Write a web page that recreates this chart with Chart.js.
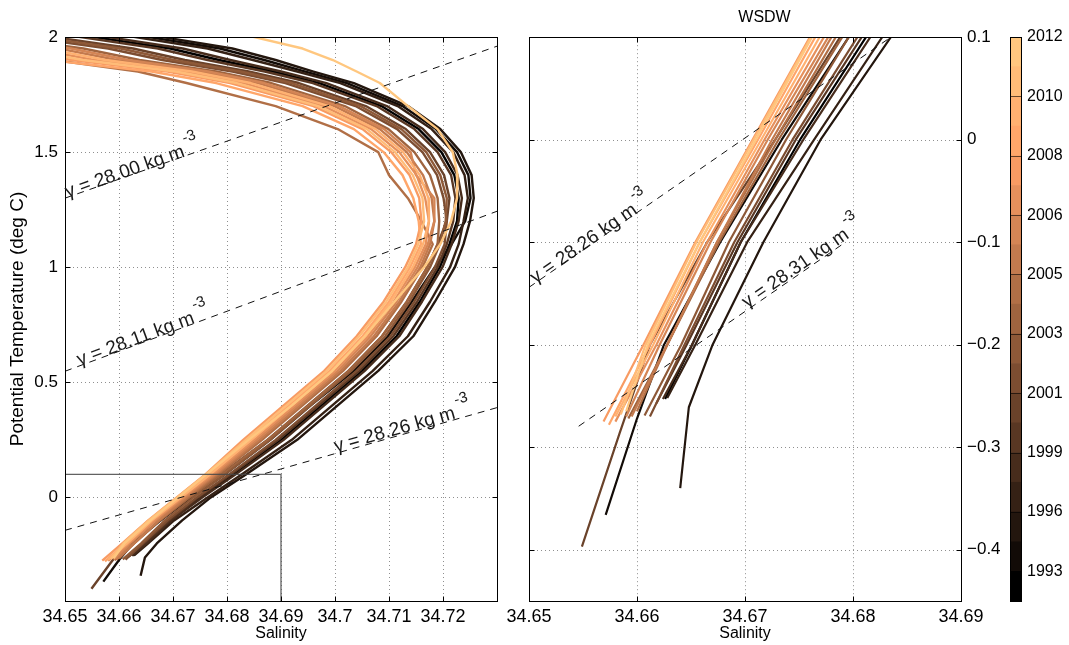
<!DOCTYPE html>
<html>
<head>
<meta charset="utf-8">
<script src="https://cdn.jsdelivr.net/npm/chart.js@4.4.1/dist/chart.umd.min.js"></script>
<style>
  body { margin: 0; background: #fff; width: 1069px; height: 645px; overflow: hidden; position: relative; }
  canvas { position: absolute; top: 0; }
  #thetaSalinityChart { left: 0; }
  #wsdwChart { left: 499px; }
  #yearColorbar { left: 1000px; }
</style>
</head>
<body>
<canvas id="thetaSalinityChart" width="520" height="645"></canvas>
<canvas id="wsdwChart" width="501" height="645"></canvas>
<canvas id="yearColorbar" width="69" height="645"></canvas>
<script>
// Potential temperature levels (deg C) shared by all profiles
const thetaLevels = [2.05, 1.95, 1.9, 1.85, 1.8, 1.7, 1.6, 1.5, 1.4, 1.3, 1.2, 1.1, 1.0, 0.85, 0.7, 0.55, 0.4, 0.25, 0.1, 0.0, -0.1, -0.2];

const profileYears = ['1993', '1995', '1996', '1998', '1999', '2000', '2001', '2002', '2003', '2004', '2005', '2005', '2006', '2007', '2008', '2009', '2010', '2011', '2012'];

// Salinity at each theta level
const sal1993 = [34.6413, 34.6695, 34.6785, 34.6885, 34.6971, 34.7086, 34.7155, 34.7197, 34.7221, 34.7229, 34.7226, 34.7212, 34.7194, 34.7157, 34.7114, 34.7050, 34.6975, 34.6900, 34.6812, 34.6751, 34.6696, 34.6651];
const sal1995 = [34.6523, 34.6787, 34.6869, 34.6945, 34.7022, 34.7125, 34.7187, 34.7226, 34.7247, 34.7251, 34.7241, 34.7216, 34.7185, 34.7142, 34.7098, 34.7035, 34.6955, 34.6880, 34.6796, 34.6734, 34.6677, 34.6625];
const sal1996 = [34.6550, 34.6810, 34.6890, 34.6960, 34.7035, 34.7135, 34.7195, 34.7233, 34.7253, 34.7257, 34.7250, 34.7238, 34.7222, 34.7185, 34.7145, 34.7080, 34.7005, 34.6930, 34.6835, 34.6770, 34.6717, 34.6670];
const sal1998 = [34.6495, 34.6764, 34.6848, 34.6930, 34.7010, 34.7116, 34.7179, 34.7219, 34.7240, 34.7246, 34.7238, 34.7229, 34.7213, 34.7176, 34.7135, 34.7070, 34.6995, 34.6920, 34.6827, 34.6764, 34.6702, 34.6654];
const sal1999 = [34.6440, 34.6718, 34.6806, 34.6900, 34.6984, 34.7096, 34.7163, 34.7204, 34.7227, 34.7235, 34.7229, 34.7216, 34.7199, 34.7161, 34.7119, 34.7055, 34.6980, 34.6905, 34.6816, 34.6754, 34.6696, 34.6651];
const sal2000 = [34.6385, 34.6672, 34.6764, 34.6870, 34.6959, 34.7077, 34.7147, 34.7190, 34.7215, 34.7223, 34.7219, 34.7207, 34.7190, 34.7152, 34.7108, 34.7045, 34.6970, 34.6895, 34.6808, 34.6747, 34.6693, 34.6646];
const sal2001 = [34.6330, 34.6626, 34.6722, 34.6840, 34.6933, 34.7057, 34.7131, 34.7176, 34.7202, 34.7212, 34.7207, 34.7190, 34.7171, 34.7133, 34.7087, 34.7025, 34.6950, 34.6875, 34.6788, 34.6728, 34.6665, 34.6612];
const sal2002 = [34.6275, 34.6580, 34.6680, 34.6810, 34.6908, 34.7038, 34.7115, 34.7162, 34.7189, 34.7201, 34.7207, 34.7203, 34.7185, 34.7147, 34.7103, 34.7040, 34.6965, 34.6890, 34.6804, 34.6744, 34.6690, 34.6644];
const sal2003 = [34.6303, 34.6603, 34.6701, 34.6825, 34.6920, 34.7047, 34.7123, 34.7169, 34.7195, 34.7207, 34.7205, 34.7194, 34.7176, 34.7138, 34.7093, 34.7030, 34.6955, 34.6880, 34.6796, 34.6738, 34.6685, 34.6641];
const sal2004 = [34.6220, 34.6534, 34.6638, 34.6780, 34.6882, 34.7018, 34.7099, 34.7147, 34.7176, 34.7190, 34.7193, 34.7190, 34.7171, 34.7133, 34.7087, 34.7025, 34.6950, 34.6875, 34.6790, 34.6731, 34.6676, 34.6628];
const sal2005a = [34.5900, 34.6280, 34.6480, 34.6635, 34.6725, 34.6890, 34.7005, 34.7080, 34.7100, 34.7135, 34.7160, 34.7181, 34.7162, 34.7123, 34.7077, 34.7015, 34.6940, 34.6865, 34.6784, 34.6728, 34.6674, 34.6628];
const sal2005b = [34.6165, 34.6488, 34.6596, 34.6750, 34.6857, 34.6999, 34.7083, 34.7133, 34.7163, 34.7179, 34.7184, 34.7176, 34.7158, 34.7119, 34.7072, 34.7010, 34.6935, 34.6860, 34.6780, 34.6725, 34.6674, 34.6628];
const sal2006 = [34.6193, 34.6511, 34.6617, 34.6765, 34.6869, 34.7008, 34.7091, 34.7140, 34.7150, 34.7184, 34.7184, 34.7172, 34.7153, 34.7114, 34.7066, 34.7005, 34.6930, 34.6855, 34.6777, 34.6721, 34.6668, 34.6621];
const sal2007 = [34.6110, 34.6442, 34.6554, 34.6720, 34.6831, 34.6979, 34.7067, 34.7119, 34.7151, 34.7167, 34.7174, 34.7168, 34.7148, 34.7109, 34.7061, 34.7000, 34.6925, 34.6850, 34.6773, 34.6718, 34.6665, 34.6618];
const sal2008 = [34.6055, 34.6396, 34.6512, 34.6690, 34.6806, 34.6960, 34.7051, 34.7104, 34.7138, 34.7156, 34.7160, 34.7150, 34.7130, 34.7090, 34.7040, 34.6980, 34.6905, 34.6830, 34.6760, 34.6707, 34.6654, 34.6606];
const sal2009 = [34.6000, 34.6350, 34.6470, 34.6660, 34.6780, 34.6940, 34.7035, 34.7090, 34.7125, 34.7145, 34.7155, 34.7159, 34.7139, 34.7100, 34.7051, 34.6990, 34.6915, 34.6840, 34.6765, 34.6712, 34.6658, 34.6612];
const sal2010 = [34.6138, 34.6465, 34.6575, 34.6735, 34.6844, 34.6989, 34.7075, 34.7126, 34.7157, 34.7173, 34.7174, 34.7163, 34.7144, 34.7104, 34.7056, 34.6995, 34.6920, 34.6845, 34.6769, 34.6715, 34.6661, 34.6615];
const sal2011 = [34.6083, 34.6419, 34.6533, 34.6705, 34.6818, 34.6969, 34.7059, 34.7111, 34.7144, 34.7162, 34.7165, 34.7154, 34.7135, 34.7095, 34.7045, 34.6985, 34.6910, 34.6835, 34.6761, 34.6708, 34.6655, 34.6608];
const sal2012 = [34.6760, 34.6940, 34.6996, 34.7040, 34.7083, 34.7135, 34.7190, 34.7218, 34.7227, 34.7226, 34.7215, 34.7195, 34.7165, 34.7110, 34.7055, 34.6995, 34.6920, 34.6840, 34.6762, 34.6710, 34.6658, 34.6610];

const profileSalinity = [sal1993, sal1995, sal1996, sal1998, sal1999, sal2000, sal2001, sal2002, sal2003, sal2004,
  sal2005a, sal2005b, sal2006, sal2007, sal2008, sal2009, sal2010, sal2011, sal2012];

// Deep end of each profile, below the last shared level
const kinkSal = [null, 34.6600, 34.6648, null, null, null, 34.6584, null, null, null, null, null, null, null, null, null, null, null, null];
const kinkTheta = [null, -0.272, -0.261, null, null, null, -0.286, null, null, null, null, null, null, null, null, null, null, null, null];
const bottomSal = [34.6626, 34.6571, 34.6640, 34.6628, 34.6624, 34.6618, 34.6549, 34.6612, 34.6607, 34.6592, 34.6600, 34.6595, 34.6590, 34.6580, 34.6569, 34.6574, 34.6580, 34.6585, 34.6590];
const bottomTheta = [-0.253, -0.366, -0.340, -0.252, -0.253, -0.257, -0.397, -0.270, -0.269, -0.272, -0.265, -0.270, -0.270, -0.275, -0.275, -0.278, -0.270, -0.268, -0.265];

// Copper colormap, one colour per profile
const profileColors = ['#000000', '#120b07', '#23160e', '#352115', '#472c1c', '#593723', '#6a422a', '#7c4d31', '#8e5938', '#9f643f',
  '#b16f46', '#c37a4e', '#d48555', '#e6905c', '#f89b63', '#ffa66a', '#ffb171', '#ffbc78', '#ffc77f'];

// Neutral density isopycnals (kg m-3), straight segments in S-theta space
const leftIsoNames = ['28.00', '28.11', '28.26'];
const leftIsoSal0 = [34.65, 34.65, 34.65];
const leftIsoTheta0 = [1.30, 0.548, -0.143];
const leftIsoSal1 = [34.73, 34.73, 34.73];
const leftIsoTheta1 = [1.96, 1.243, 0.39];
const leftIsoLabelSal = [34.6625, 34.6645, 34.7125];
const leftIsoLabelTheta = [1.425, 0.699, 0.302];

const rightIsoNames = ['28.26', '28.31'];
const rightIsoSal0 = [34.65, 34.6546];
const rightIsoTheta0 = [-0.144, -0.2795];
const rightIsoSal1 = [34.6835, 34.6793];
const rightIsoTheta1 = [0.1, -0.100];
const rightIsoLabelSal = [34.6557, 34.6753];
const rightIsoLabelTheta = [-0.097, -0.121];

// WSDW zoom box drawn on the full profile panel
const boxSal = [34.65, 34.69, 34.69];
const boxTheta = [0.1, 0.1, -0.45];

// Axis ticks
const leftSalTicks = [34.65, 34.66, 34.67, 34.68, 34.69, 34.70, 34.71, 34.72];
const leftThetaTicks = [0, 0.5, 1, 1.5, 2];
const rightSalTicks = [34.65, 34.66, 34.67, 34.68, 34.69];
const rightThetaTicks = [-0.4, -0.3, -0.2, -0.1, 0, 0.1];
const colorbarTickPos = [1, 3, 5, 7, 9, 11, 13, 15, 17, 19];
const colorbarTickYears = ['1993', '1996', '1999', '2001', '2003', '2005', '2006', '2008', '2010', '2012'];

const FONT = '"Liberation Sans", Arial, Helvetica, sans-serif';
Chart.defaults.font.family = FONT;
Chart.defaults.font.size = 16;
Chart.defaults.color = '#000';

// Dotted grid, box frame and inward ticks (MATLAB look)
const axesBoxPlugin = {
  id: 'axesBox',
  beforeDatasetsDraw(chart, args, opts) {
    const { ctx, chartArea: a } = chart;
    const xs = chart.scales.x, ys = chart.scales.y;
    ctx.save();
    ctx.strokeStyle = '#8f8f8f';
    ctx.lineWidth = 1;
    ctx.setLineDash([1, 3]);
    opts.xGrid.forEach(v => {
      const px = Math.round(xs.getPixelForValue(v)) + 0.5;
      ctx.beginPath(); ctx.moveTo(px, a.top); ctx.lineTo(px, a.bottom); ctx.stroke();
    });
    opts.yGrid.forEach(v => {
      const py = Math.round(ys.getPixelForValue(v)) + 0.5;
      ctx.beginPath(); ctx.moveTo(a.left, py); ctx.lineTo(a.right, py); ctx.stroke();
    });
    ctx.restore();
  },
  afterDatasetsDraw(chart, args, opts) {
    const { ctx, chartArea: a } = chart;
    const xs = chart.scales.x, ys = chart.scales.y;
    const L = Math.round(a.left) + 0.5, R = Math.round(a.right) + 0.5;
    const T = Math.round(a.top) + 0.5, B = Math.round(a.bottom) + 0.5;
    ctx.save();
    ctx.strokeStyle = '#000';
    ctx.lineWidth = 1;
    ctx.strokeRect(L, T, R - L, B - T);
    ctx.beginPath();
    opts.xGrid.forEach(v => {
      const px = Math.round(xs.getPixelForValue(v)) + 0.5;
      ctx.moveTo(px, B); ctx.lineTo(px, B - 5);
      ctx.moveTo(px, T); ctx.lineTo(px, T + 5);
    });
    opts.yGrid.forEach(v => {
      const py = Math.round(ys.getPixelForValue(v)) + 0.5;
      ctx.moveTo(L, py); ctx.lineTo(L + 5, py);
      ctx.moveTo(R, py); ctx.lineTo(R - 5, py);
    });
    ctx.stroke();
    ctx.restore();
  }
};

// Rotated isopycnal labels sitting along the dashed lines
const isoLabelPlugin = {
  id: 'isoLabels',
  afterDatasetsDraw(chart, args, opts) {
    const { ctx } = chart;
    const xs = chart.scales.x, ys = chart.scales.y;
    opts.items.forEach(item => {
      const x0 = xs.getPixelForValue(item.s0), y0 = ys.getPixelForValue(item.t0);
      const x1 = xs.getPixelForValue(item.s1), y1 = ys.getPixelForValue(item.t1);
      const angle = Math.atan2(y1 - y0, x1 - x0);
      const main = 'γ = ' + item.name + ' kg m';
      ctx.save();
      ctx.translate(xs.getPixelForValue(item.s), ys.getPixelForValue(item.t));
      ctx.rotate(angle);
      ctx.fillStyle = '#1a1a1a';
      ctx.textBaseline = 'middle';
      ctx.font = '19px ' + FONT;
      const mainW = ctx.measureText(main).width;
      ctx.font = '15px ' + FONT;
      const supW = ctx.measureText('-3').width;
      const start = -(mainW + supW + 3) / 2;
      ctx.font = '19px ' + FONT;
      ctx.fillText(main, start, 0);
      ctx.font = '15px ' + FONT;
      ctx.fillText('-3', start + mainW + 3, -12);
      ctx.restore();
    });
  }
};

class ThetaSalinityFigure {
  constructor() {
    this.charts = {};
    this.init();
  }

  init() {
    this.createProfileChart();
    this.createWsdwChart();
    this.createColorbar();
  }

  buildProfilePoints(k) {
    const points = thetaLevels.map((t, i) => ({ x: profileSalinity[k][i], y: t }));
    if (kinkSal[k] !== null) points.push({ x: kinkSal[k], y: kinkTheta[k] });
    points.push({ x: bottomSal[k], y: bottomTheta[k] });
    return points;
  }

  profileDatasets(width) {
    return profileYears.map((year, k) => ({
      label: year,
      data: this.buildProfilePoints(k),
      showLine: true,
      borderColor: profileColors[k],
      borderWidth: width,
      borderJoinStyle: 'round',
      pointRadius: 0,
      clip: 0,
      order: 100 - k
    }));
  }

  isoDatasets(sal0, theta0, sal1, theta1) {
    return sal0.map((s, i) => ({
      data: [{ x: s, y: theta0[i] }, { x: sal1[i], y: theta1[i] }],
      showLine: true,
      borderColor: '#111',
      borderWidth: 1,
      borderDash: [7, 6],
      pointRadius: 0,
      clip: 0,
      order: 1
    }));
  }

  isoItems(names, sal0, theta0, sal1, theta1, labelSal, labelTheta) {
    return names.map((name, i) => ({
      name: name,
      s0: sal0[i], t0: theta0[i], s1: sal1[i], t1: theta1[i],
      s: labelSal[i], t: labelTheta[i]
    }));
  }

  createProfileChart() {
    const ctx = document.getElementById('thetaSalinityChart');
    const datasets = this.profileDatasets(2.4)
      .concat(this.isoDatasets(leftIsoSal0, leftIsoTheta0, leftIsoSal1, leftIsoTheta1));
    datasets.push({
      data: boxSal.map((s, i) => ({ x: s, y: boxTheta[i] })),
      showLine: true,
      borderColor: 'rgba(70, 70, 70, 0.85)',
      borderWidth: 1.3,
      pointRadius: 0,
      clip: 0,
      order: 0
    });

    this.charts.profiles = new Chart(ctx, {
      type: 'scatter',
      data: { datasets: datasets },
      plugins: [axesBoxPlugin, isoLabelPlugin],
      options: {
        responsive: false,
        animation: false,
        events: [],
        layout: { padding: { top: 37, right: 23, left: 0, bottom: 0 } },
        plugins: {
          legend: { display: false },
          tooltip: { enabled: false },
          axesBox: { xGrid: leftSalTicks, yGrid: leftThetaTicks },
          isoLabels: {
            items: this.isoItems(leftIsoNames, leftIsoSal0, leftIsoTheta0, leftIsoSal1, leftIsoTheta1,
              leftIsoLabelSal, leftIsoLabelTheta)
          }
        },
        scales: {
          x: {
            type: 'linear',
            min: 34.65,
            max: 34.73,
            afterBuildTicks: (scale) => { scale.ticks = leftSalTicks.map(v => ({ value: v })); },
            afterFit: (scale) => { scale.height = 44; },
            grid: { display: false, drawTicks: false },
            border: { display: false },
            ticks: { padding: 5, autoSkip: false, maxRotation: 0, font: { size: 18 }, callback: (v) => String(Number(v.toFixed(2))) },
            title: { display: true, text: 'Salinity', font: { size: 16 }, padding: { top: 0, bottom: 2 } }
          },
          y: {
            type: 'linear',
            min: -0.45,
            max: 2,
            afterBuildTicks: (scale) => { scale.ticks = leftThetaTicks.map(v => ({ value: v })); },
            afterFit: (scale) => { scale.width = 65; },
            grid: { display: false, drawTicks: false },
            border: { display: false },
            ticks: { padding: 7, font: { size: 17 }, callback: (v) => String(v) },
            title: { display: true, text: 'Potential Temperature (deg C)', font: { size: 19 }, padding: { top: 6, bottom: 0 } }
          }
        }
      }
    });
  }

  createWsdwChart() {
    const ctx = document.getElementById('wsdwChart');
    const datasets = this.profileDatasets(2.2)
      .concat(this.isoDatasets(rightIsoSal0, rightIsoTheta0, rightIsoSal1, rightIsoTheta1));

    this.charts.wsdw = new Chart(ctx, {
      type: 'scatter',
      data: { datasets: datasets },
      plugins: [axesBoxPlugin, isoLabelPlugin],
      options: {
        responsive: false,
        animation: false,
        events: [],
        layout: { padding: { top: 0, right: 0, left: 30, bottom: 0 } },
        plugins: {
          legend: { display: false },
          tooltip: { enabled: false },
          title: { display: true, text: 'WSDW', font: { size: 16, weight: 'normal' }, color: '#000', padding: { top: 8, bottom: 10 } },
          axesBox: { xGrid: rightSalTicks, yGrid: rightThetaTicks },
          isoLabels: {
            items: this.isoItems(rightIsoNames, rightIsoSal0, rightIsoTheta0, rightIsoSal1, rightIsoTheta1,
              rightIsoLabelSal, rightIsoLabelTheta)
          }
        },
        scales: {
          x: {
            type: 'linear',
            min: 34.65,
            max: 34.69,
            afterBuildTicks: (scale) => { scale.ticks = rightSalTicks.map(v => ({ value: v })); },
            afterFit: (scale) => { scale.height = 44; },
            grid: { display: false, drawTicks: false },
            border: { display: false },
            ticks: { padding: 5, autoSkip: false, maxRotation: 0, font: { size: 18 }, callback: (v) => v.toFixed(2) },
            title: { display: true, text: 'Salinity', font: { size: 16 }, padding: { top: 0, bottom: 2 } }
          },
          y: {
            type: 'linear',
            position: 'right',
            min: -0.45,
            max: 0.1,
            afterBuildTicks: (scale) => { scale.ticks = rightThetaTicks.map(v => ({ value: v })); },
            afterFit: (scale) => { scale.width = 39; },
            grid: { display: false, drawTicks: false },
            border: { display: false },
            ticks: {
              padding: 6,
              font: { size: 17 },
              callback: (v) => v === 0 ? '0' : (v < 0 ? '\u2212' + Math.abs(v).toFixed(1) : v.toFixed(1))
            }
          }
        }
      }
    });
  }

  createColorbar() {
    const ctx = document.getElementById('yearColorbar');

    const tickLinePlugin = {
      id: 'colorbarTicks',
      afterDatasetsDraw(chart) {
        const { ctx, chartArea: a } = chart;
        const ys = chart.scales.y;
        ctx.save();
        ctx.strokeStyle = 'rgba(0, 0, 0, 0.6)';
        ctx.lineWidth = 1;
        ctx.beginPath();
        colorbarTickPos.forEach(v => {
          const py = Math.round(ys.getPixelForValue(v)) + 0.5;
          ctx.moveTo(a.left, py); ctx.lineTo(a.right, py);
        });
        ctx.stroke();
        ctx.strokeStyle = '#000';
        ctx.strokeRect(Math.round(a.left) + 0.5, Math.round(a.top) + 0.5,
          Math.round(a.right - a.left), Math.round(a.bottom - a.top));
        ctx.restore();
      }
    };

    this.charts.colorbar = new Chart(ctx, {
      type: 'bar',
      data: {
        labels: ['year'],
        datasets: profileColors.map((c, k) => ({
          label: profileYears[k],
          data: [1],
          backgroundColor: c,
          borderWidth: 0,
          barPercentage: 1,
          categoryPercentage: 1
        }))
      },
      plugins: [tickLinePlugin],
      options: {
        responsive: false,
        animation: false,
        events: [],
        layout: { padding: { top: 37, left: 10, right: 0, bottom: 44 } },
        plugins: { legend: { display: false }, tooltip: { enabled: false } },
        scales: {
          x: { stacked: true, display: false },
          y: {
            stacked: true,
            position: 'right',
            min: 0,
            max: 19,
            afterBuildTicks: (scale) => { scale.ticks = colorbarTickPos.map(v => ({ value: v })); },
            afterFit: (scale) => { scale.width = 48; },
            grid: { display: false, drawTicks: false },
            border: { display: false },
            ticks: { padding: 6, callback: (v) => colorbarTickYears[colorbarTickPos.indexOf(v)] }
          }
        }
      }
    });
  }
}

document.addEventListener('DOMContentLoaded', () => {
  new ThetaSalinityFigure();
});
</script>
</body>
</html>
